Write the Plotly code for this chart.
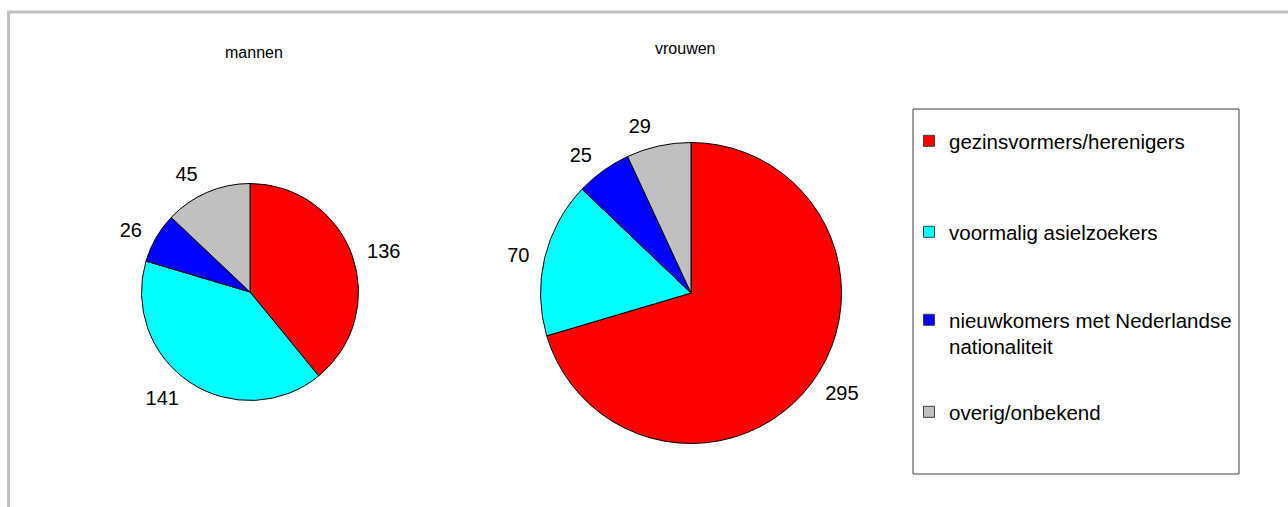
import plotly.graph_objects as go

# Categories and counts per group
categories = [
    "gezinsvormers/herenigers",
    "voormalig asielzoekers",
    "nieuwkomers met Nederlandse<br>nationaliteit",
    "overig/onbekend",
]
mannen = [136, 141, 26, 45]
vrouwen = [295, 70, 25, 29]
colors = ["#ff0000", "#00ffff", "#0000ff", "#c0c0c0"]

W, H = 1288, 507


def px(x):
    return x / W


def py(y):
    return 1 - y / H


def square_domain(cx, cy, r):
    return dict(x=[px(cx - r), px(cx + r)], y=[py(cy + r), py(cy - r)])


label_font = dict(family="Liberation Sans, Arial", size=20, color="#000000")
LABEL_GAP = 10  # extra distance of the value labels from the pie edge

fig = go.Figure()

for values, (cx, cy, r) in ((mannen, (250, 292, 108.5)), (vrouwen, (691, 293, 150.5))):
    # transparent companion pie that only carries the outside value labels
    fig.add_trace(go.Pie(
        labels=categories,
        values=values,
        sort=False,
        direction="clockwise",
        rotation=0,
        marker=dict(colors=["rgba(0,0,0,0)"] * len(values), line=dict(width=0)),
        textinfo="value",
        textposition="outside",
        textfont=label_font,
        domain=square_domain(cx, cy, r + LABEL_GAP),
        showlegend=False,
        hoverinfo="skip",
    ))
    # the visible pie
    fig.add_trace(go.Pie(
        labels=categories,
        values=values,
        sort=False,
        direction="clockwise",
        rotation=0,
        marker=dict(colors=colors, line=dict(color="#000000", width=1)),
        textinfo="none",
        domain=square_domain(cx, cy, r),
        showlegend=False,
        hoverinfo="label+value+percent",
    ))

# Legend entries, one per category, each placed in its own legend
legend_names = ["legend", "legend2", "legend3", "legend4"]
legend_tops = [121, 212, 300, 392]
for name, cat, col in zip(legend_names, categories, colors):
    fig.add_trace(go.Scatter(
        x=[None], y=[None], mode="markers", name=cat,
        marker=dict(symbol="square", size=11, color=col,
                    line=dict(color="#404040", width=1)),
        legend=name, showlegend=True, hoverinfo="skip",
    ))

legend_font = dict(family="Liberation Sans, Arial", size=20.5, color="#000000")
legend_layouts = {}
for name, top in zip(legend_names, legend_tops):
    legend_layouts[name] = dict(
        x=px(909), y=py(top), xanchor="left", yanchor="top",
        bgcolor="rgba(0,0,0,0)", borderwidth=0, font=legend_font,
        valign="top", itemclick=False, itemdoubleclick=False,
    )

title_font = dict(family="Liberation Sans, Arial", size=16, color="#000000")

fig.update_layout(
    width=W, height=H,
    margin=dict(l=0, r=0, t=0, b=0),
    paper_bgcolor="#ffffff",
    plot_bgcolor="#ffffff",
    xaxis=dict(visible=False),
    yaxis=dict(visible=False),
    annotations=[
        dict(text="mannen", x=px(254), y=py(53), xref="paper", yref="paper",
             showarrow=False, font=title_font, xanchor="center", yanchor="middle"),
        dict(text="vrouwen", x=px(685), y=py(48), xref="paper", yref="paper",
             showarrow=False, font=title_font, xanchor="center", yanchor="middle"),
    ],
    shapes=[
        # outer frame (top and left edges)
        dict(type="line", xref="paper", yref="paper", x0=px(7), x1=1, y0=py(12), y1=py(12),
             line=dict(color="#c0c0c0", width=3)),
        dict(type="line", xref="paper", yref="paper", x0=px(8.5), x1=px(8.5), y0=py(11), y1=0,
             line=dict(color="#c0c0c0", width=3)),
        # legend box
        dict(type="rect", xref="paper", yref="paper", x0=px(913), x1=px(1239),
             y0=py(474), y1=py(109), line=dict(color="#404040", width=1)),
    ],
    **legend_layouts,
)

fig.write_html("out.html")
